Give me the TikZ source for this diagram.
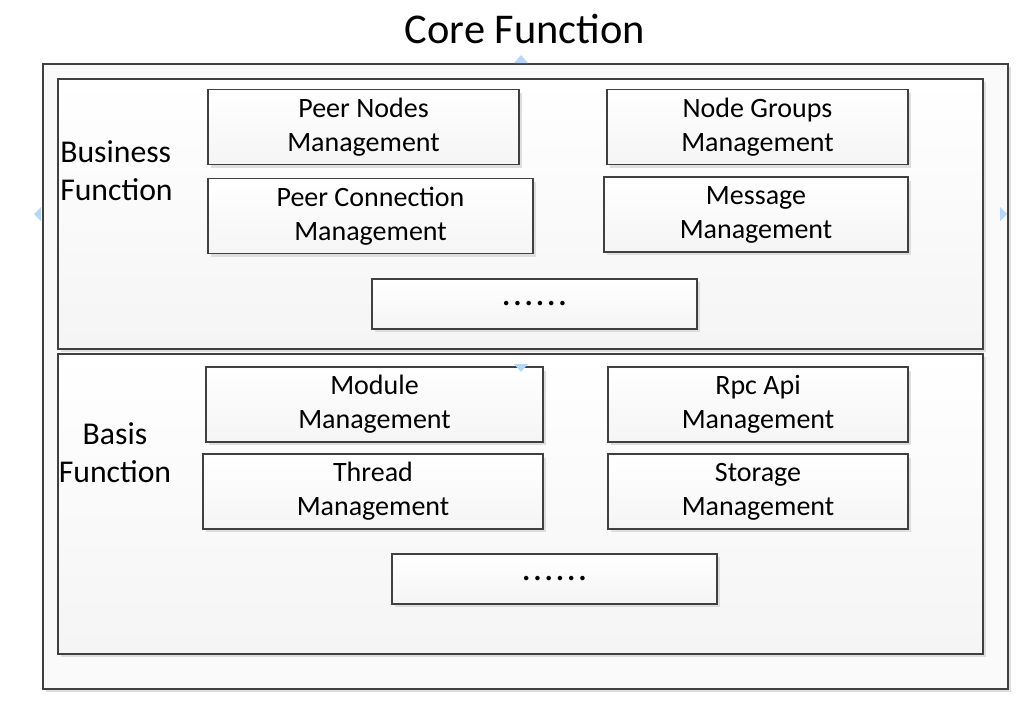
\documentclass[tikz,border=0pt]{standalone}
\usepackage{fontspec}
\setmainfont{Carlito}
\usetikzlibrary{fit,shadows}
\definecolor{frameline}{RGB}{64,64,64}
\definecolor{handlecol}{RGB}{181,216,250}
\definecolor{shadecol}{RGB}{222,222,222}

\begin{document}
\begin{tikzpicture}[x=0.75pt, y=-0.75pt,
	panel/.style={draw=frameline, line width=1.1pt, inner sep=0pt, top color=white, bottom color=gray!8,
		general shadow={fill=shadecol, shadow xshift=2.5pt, shadow yshift=-2.5pt}},
	mgmt/.style={panel, align=center, minimum height=56pt, font=\fontsize{21}{25.5}\selectfont},
	dots/.style={panel, minimum width=243.75pt, minimum height=37.5pt, font=\fontsize{28}{30}\selectfont\addfontfeatures{LetterSpace=5}},
	side label/.style={align=center, font=\fontsize{23.8}{28.5}\selectfont},
	handle/.style={fill=handlecol, draw=none}]
	\useasboundingbox (0,0) rectangle (1020,700);
	\node[font=\fontsize{31.8}{37}\selectfont] (title) at (525,29) {Core Function};
	\node[panel, top color=gray!4, bottom color=gray!4, fit={(43,64) (1008,689)}] (core) {};
	\node[panel, fit={(58,79) (983,349)}] (business) {};
	\node[panel, fit={(58,354) (983,654)}] (basis) {};
	\node[side label, align=left, anchor=west, inner sep=0pt] (businesslbl) at (60,171) {Business\\Function};
	\node[side label] (basislbl) at (115,453) {Basis\\Function};
	\node[mgmt, minimum width=233.25pt] (peernodes) at (363.5,127) {Peer Nodes\\Management};
	\node[mgmt, minimum width=243.75pt] (peerconn) at (370.5,216) {Peer Connection\\Management};
	\node[mgmt, minimum width=225.75pt] (nodegroups) at (757.5,127) {Node Groups\\Management};
	\node[mgmt, minimum width=228pt] (message) at (756,214.5) {Message\\Management};
	\node[dots] (bizmore) at (534.5,304) {......};
	\node[mgmt, minimum width=252.75pt] (module) at (374.5,404.5) {Module\\Management};
	\node[mgmt, minimum width=225pt] (rpcapi) at (758,404.5) {Rpc Api\\Management};
	\node[mgmt, minimum width=255pt] (thread) at (373,491.5) {Thread\\Management};
	\node[mgmt, minimum width=225pt] (storage) at (758,491.5) {Storage\\Management};
	\node[dots] (basismore) at (554.5,579) {......};
	\fill[handle] (514,63) -- (528,63) -- (521,55) -- cycle;
	\fill[handle] (514,364) -- (528,364) -- (521,372) -- cycle;
	\fill[handle] (41,207) -- (41,221) -- (34,214) -- cycle;
	\fill[handle] (1000,207) -- (1000,221) -- (1007,214) -- cycle;
\end{tikzpicture}
\end{document}
